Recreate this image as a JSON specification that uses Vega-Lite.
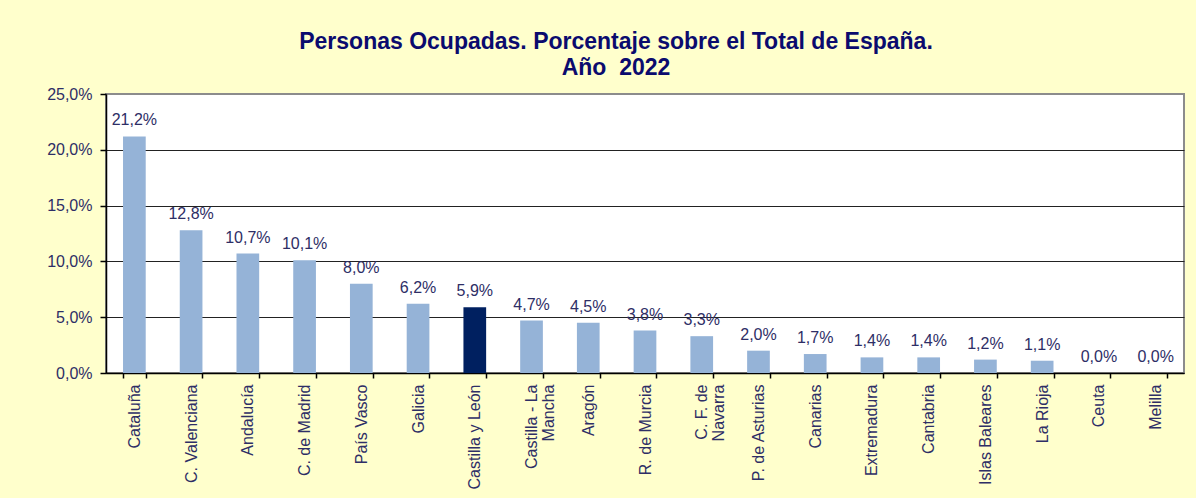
{
  "$schema": "https://vega.github.io/schema/vega-lite/v6.json",
  "width": 1078,
  "height": 279,
  "autosize": {"type": "none"},
  "padding": {"left": 106, "top": 94, "right": 12, "bottom": 125},
  "background": "#FFFFCC",
  "title": {
    "text": ["Personas Ocupadas. Porcentaje sobre el Total de España.", "Año\u00a0 2022"],
    "anchor": "middle",
    "dx": -29,
    "offset": 6,
    "font": "Liberation Sans",
    "fontSize": 23,
    "fontWeight": "bold",
    "color": "#0B0B6E",
    "lineHeight": 26
  },
  "config": {
    "locale": {"number": {"decimal": ",", "thousands": ".", "grouping": [3], "currency": ["", " €"]}},
    "view": {"fill": "white", "stroke": "#8c8c8c", "strokeWidth": 2},
    "font": "Liberation Sans"
  },
  "data": {
    "values": [
      {"region": "Cataluña", "pct": 0.212, "highlight": "no"},
      {"region": "C. Valenciana", "pct": 0.128, "highlight": "no"},
      {"region": "Andalucía", "pct": 0.107, "highlight": "no"},
      {"region": "C. de Madrid", "pct": 0.101, "highlight": "no"},
      {"region": "País Vasco", "pct": 0.080, "highlight": "no"},
      {"region": "Galicia", "pct": 0.062, "highlight": "no"},
      {"region": "Castilla y León", "pct": 0.059, "highlight": "yes"},
      {"region": "Castilla - La|Mancha", "pct": 0.047, "highlight": "no"},
      {"region": "Aragón", "pct": 0.045, "highlight": "no"},
      {"region": "R. de Murcia", "pct": 0.038, "highlight": "no"},
      {"region": "C. F. de|Navarra", "pct": 0.033, "highlight": "no"},
      {"region": "P. de Asturias", "pct": 0.020, "highlight": "no"},
      {"region": "Canarias", "pct": 0.017, "highlight": "no"},
      {"region": "Extremadura", "pct": 0.014, "highlight": "no"},
      {"region": "Cantabria", "pct": 0.014, "highlight": "no"},
      {"region": "Islas Baleares", "pct": 0.012, "highlight": "no"},
      {"region": "La Rioja", "pct": 0.011, "highlight": "no"},
      {"region": "Ceuta", "pct": 0.0, "highlight": "no"},
      {"region": "Melilla", "pct": 0.0, "highlight": "no"}
    ]
  },
  "encoding": {
    "x": {
      "field": "region",
      "type": "nominal",
      "sort": null,
      "scale": {"paddingInner": 0.6, "paddingOuter": 0.3},
      "axis": {
        "title": null,
        "labelAngle": -90,
        "labelFontSize": 16,
        "labelColor": "#2E2E66",
        "labelExpr": "split(datum.label, '|')",
        "labelLineHeight": 17,
        "labelPadding": 6,
        "tickBand": "extent",
        "tickSize": 5,
        "tickColor": "black",
        "tickWidth": 1.5,
        "domainColor": "black",
        "domainWidth": 1.5,
        "grid": false
      }
    },
    "y": {
      "field": "pct",
      "type": "quantitative",
      "scale": {"domain": [0, 0.25], "nice": false},
      "axis": {
        "title": null,
        "format": ".1%",
        "values": [0, 0.05, 0.1, 0.15, 0.2, 0.25],
        "labelFontSize": 16,
        "labelColor": "#2E2E66",
        "labelPadding": 8,
        "tickSize": 6,
        "tickColor": "black",
        "tickWidth": 1.5,
        "domainColor": "black",
        "domainWidth": 1.5,
        "grid": true,
        "gridColor": {"condition": {"test": "datum.value >= 0.25", "value": "#8c8c8c"}, "value": "#222222"},
        "gridWidth": 1.2
      }
    }
  },
  "layer": [
    {
      "mark": {"type": "bar"},
      "encoding": {
        "color": {
          "field": "highlight",
          "type": "nominal",
          "scale": {"domain": ["no", "yes"], "range": ["#95B3D7", "#002060"]},
          "legend": null
        }
      }
    },
    {
      "mark": {"type": "text", "baseline": "alphabetic", "dy": -11, "fontSize": 16, "color": "#2E2E66"},
      "encoding": {
        "text": {"field": "pct", "type": "quantitative", "format": ".1%"}
      }
    }
  ]
}
